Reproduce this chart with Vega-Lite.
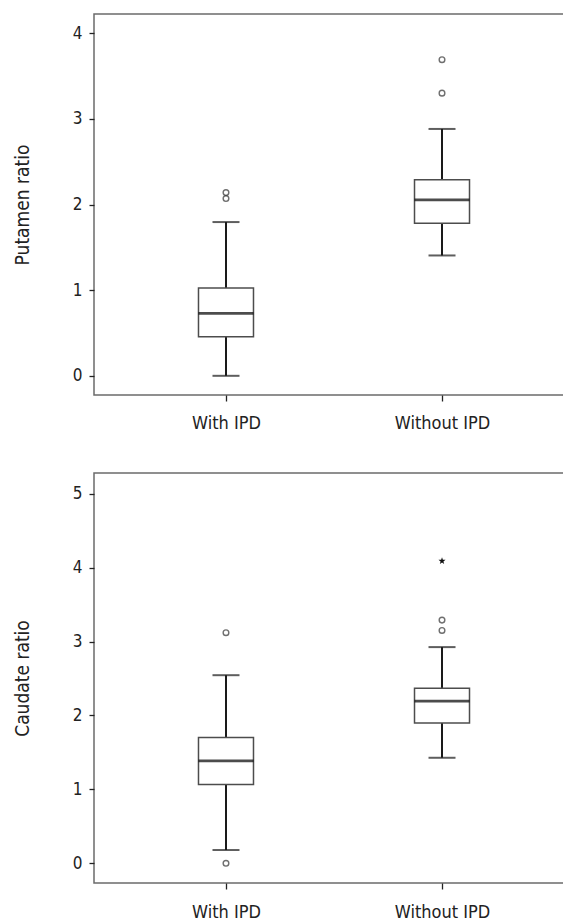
{
  "$schema": "https://vega.github.io/schema/vega-lite/v6.json",
  "background": "white",
  "padding": {"left": 12, "top": 13, "right": 0, "bottom": 0},
  "spacing": 39,
  "config": {
    "font": "Liberation Sans Narrow, DejaVu Sans Condensed, Liberation Sans, sans-serif",
    "view": {"stroke": "#6b6b6b", "strokeWidth": 1.5},
    "axis": {
      "grid": false,
      "domain": false,
      "tickColor": "#222222",
      "tickWidth": 1.3,
      "labelColor": "#222222",
      "titleColor": "#222222",
      "labelFont": "Liberation Sans Narrow, DejaVu Sans Condensed, Liberation Sans, sans-serif",
      "titleFont": "Liberation Sans Narrow, DejaVu Sans Condensed, Liberation Sans, sans-serif",
      "titleFontWeight": "normal"
    }
  },
  "datasets": {
    "stats": [
      {"region": "Putamen", "group": "With IPD", "lower": 0.0, "q1": 0.455, "median": 0.73, "q3": 1.025, "upper": 1.795},
      {"region": "Putamen", "group": "Without IPD", "lower": 1.405, "q1": 1.78, "median": 2.055, "q3": 2.29, "upper": 2.882},
      {"region": "Caudate", "group": "With IPD", "lower": 0.18, "q1": 1.068, "median": 1.385, "q3": 1.703, "upper": 2.545},
      {"region": "Caudate", "group": "Without IPD", "lower": 1.428, "q1": 1.898, "median": 2.195, "q3": 2.37, "upper": 2.925}
    ],
    "outliers": [
      {"region": "Putamen", "group": "With IPD", "value": 2.14, "kind": "outlier"},
      {"region": "Putamen", "group": "With IPD", "value": 2.07, "kind": "outlier"},
      {"region": "Putamen", "group": "Without IPD", "value": 3.69, "kind": "outlier"},
      {"region": "Putamen", "group": "Without IPD", "value": 3.30, "kind": "outlier"},
      {"region": "Caudate", "group": "With IPD", "value": 3.12, "kind": "outlier"},
      {"region": "Caudate", "group": "With IPD", "value": 0.0, "kind": "outlier"},
      {"region": "Caudate", "group": "Without IPD", "value": 3.29, "kind": "outlier"},
      {"region": "Caudate", "group": "Without IPD", "value": 3.15, "kind": "outlier"},
      {"region": "Caudate", "group": "Without IPD", "value": 4.09, "kind": "extreme"}
    ]
  },
  "vconcat": [
    {
      "width": 480,
      "height": 381,
      "encoding": {
        "x": {"field": "group", "type": "nominal", "sort": ["With IPD", "Without IPD"],
              "scale": {"type": "point", "padding": 0.611},
              "axis": {"title": null, "labelAngle": 0, "labelFontSize": 18, "tickSize": 6, "labelPadding": 13}}
      },
      "layer": [
        {
          "data": {"name": "stats"},
          "transform": [{"filter": "datum.region === 'Putamen'"}],
          "layer": [
            {"mark": {"type": "rule", "color": "#1a1a1a", "strokeWidth": 2},
             "encoding": {
               "y": {"field": "lower", "type": "quantitative",
                     "scale": {"domain": [-0.224, 4.224], "nice": false, "zero": false},
                     "axis": {"title": "Putamen  ratio", "values": [0, 1, 2, 3, 4], "format": "d", "tickSize": 5, "labelPadding": 7, "labelFontSize": 17, "titleFontSize": 19, "titleX": -62}},
               "y2": {"field": "upper"}}},
            {"mark": {"type": "bar", "fill": "white", "stroke": "#4d4d4d", "strokeWidth": 1.5, "width": 55},
             "encoding": {"y": {"field": "q1", "type": "quantitative"}, "y2": {"field": "q3"}}},
            {"mark": {"type": "tick", "color": "#000000", "size": 55, "thickness": 2.8},
             "encoding": {"y": {"field": "median", "type": "quantitative"}}},
            {"mark": {"type": "tick", "color": "#1a1a1a", "size": 27, "thickness": 2},
             "encoding": {"y": {"field": "lower", "type": "quantitative"}}},
            {"mark": {"type": "tick", "color": "#1a1a1a", "size": 27, "thickness": 2},
             "encoding": {"y": {"field": "upper", "type": "quantitative"}}}
          ]
        },
        {
          "data": {"name": "outliers"},
          "transform": [{"filter": "datum.region === 'Putamen' && datum.kind === 'outlier'"}],
          "mark": {"type": "point", "shape": "circle", "filled": false, "stroke": "#333333", "strokeWidth": 1.4, "size": 32},
          "encoding": {"y": {"field": "value", "type": "quantitative"}}
        }
      ]
    },
    {
      "width": 480,
      "height": 410,
      "encoding": {
        "x": {"field": "group", "type": "nominal", "sort": ["With IPD", "Without IPD"],
              "scale": {"type": "point", "padding": 0.611},
              "axis": {"title": null, "labelAngle": 0, "labelFontSize": 18, "tickSize": 6, "labelPadding": 14}}
      },
      "layer": [
        {
          "data": {"name": "stats"},
          "transform": [{"filter": "datum.region === 'Caudate'"}],
          "layer": [
            {"mark": {"type": "rule", "color": "#1a1a1a", "strokeWidth": 2},
             "encoding": {
               "y": {"field": "lower", "type": "quantitative",
                     "scale": {"domain": [-0.266, 5.28], "nice": false, "zero": false},
                     "axis": {"title": "Caudate  ratio", "values": [0, 1, 2, 3, 4, 5], "format": "d", "tickSize": 5, "labelPadding": 7, "labelFontSize": 17, "titleFontSize": 19, "titleX": -62}},
               "y2": {"field": "upper"}}},
            {"mark": {"type": "bar", "fill": "white", "stroke": "#4d4d4d", "strokeWidth": 1.5, "width": 55},
             "encoding": {"y": {"field": "q1", "type": "quantitative"}, "y2": {"field": "q3"}}},
            {"mark": {"type": "tick", "color": "#000000", "size": 55, "thickness": 2.8},
             "encoding": {"y": {"field": "median", "type": "quantitative"}}},
            {"mark": {"type": "tick", "color": "#1a1a1a", "size": 27, "thickness": 2},
             "encoding": {"y": {"field": "lower", "type": "quantitative"}}},
            {"mark": {"type": "tick", "color": "#1a1a1a", "size": 27, "thickness": 2},
             "encoding": {"y": {"field": "upper", "type": "quantitative"}}}
          ]
        },
        {
          "data": {"name": "outliers"},
          "transform": [{"filter": "datum.region === 'Caudate' && datum.kind === 'outlier'"}],
          "mark": {"type": "point", "shape": "circle", "filled": false, "stroke": "#333333", "strokeWidth": 1.4, "size": 32},
          "encoding": {"y": {"field": "value", "type": "quantitative"}}
        },
        {
          "data": {"name": "outliers"},
          "transform": [{"filter": "datum.region === 'Caudate' && datum.kind === 'extreme'"}],
          "mark": {"type": "point", "shape": "M0,-1L0.235,-0.324L0.951,-0.309L0.38,0.124L0.588,0.809L0,0.4L-0.588,0.809L-0.38,0.124L-0.951,-0.309L-0.235,-0.324Z", "filled": true, "color": "#111111", "size": 55, "opacity": 1},
          "encoding": {"y": {"field": "value", "type": "quantitative"}}
        }
      ]
    }
  ]
}
